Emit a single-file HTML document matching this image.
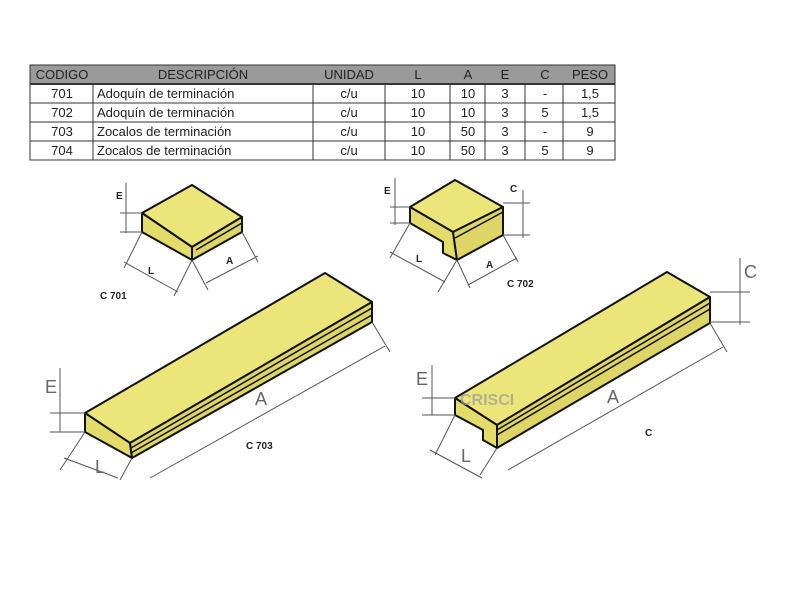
<!DOCTYPE html>
<html><head><meta charset="utf-8"><style>
body{margin:0;background:#fff;}
svg{display:block}
text{font-family:"Liberation Sans",sans-serif;}
</style></head><body>
<svg width="800" height="600" viewBox="0 0 800 600" xmlns="http://www.w3.org/2000/svg">
<rect width="800" height="600" fill="#fff"/>
<!-- table -->
<rect x="30" y="65" width="585" height="19" fill="#9a9a9a"/>
<g stroke="#333" stroke-width="1" fill="none">
<rect x="30" y="65" width="585" height="95"/>
<line x1="30" y1="84" x2="615" y2="84" stroke-width="2"/>
<line x1="30" y1="103" x2="615" y2="103"/>
<line x1="30" y1="122" x2="615" y2="122"/>
<line x1="30" y1="141" x2="615" y2="141"/>
<line x1="93" y1="84" x2="93" y2="160"/>
<line x1="313" y1="84" x2="313" y2="160"/>
<line x1="385" y1="84" x2="385" y2="160"/>
<line x1="450" y1="84" x2="450" y2="160"/>
<line x1="485" y1="84" x2="485" y2="160"/>
<line x1="525" y1="84" x2="525" y2="160"/>
<line x1="563" y1="84" x2="563" y2="160"/>
</g>
<g font-size="13" fill="#222" text-anchor="middle">
<text x="62" y="79">CODIGO</text><text x="203" y="79">DESCRIPCIÓN</text><text x="349" y="79">UNIDAD</text>
<text x="418" y="79">L</text><text x="468" y="79">A</text><text x="505" y="79">E</text><text x="545" y="79">C</text><text x="590" y="79">PESO</text>
<text x="62" y="98">701</text><text x="349" y="98">c/u</text><text x="418" y="98">10</text><text x="468" y="98">10</text><text x="505" y="98">3</text><text x="545" y="98">-</text><text x="590" y="98">1,5</text>
<text x="62" y="117">702</text><text x="349" y="117">c/u</text><text x="418" y="117">10</text><text x="468" y="117">10</text><text x="505" y="117">3</text><text x="545" y="117">5</text><text x="590" y="117">1,5</text>
<text x="62" y="136">703</text><text x="349" y="136">c/u</text><text x="418" y="136">10</text><text x="468" y="136">50</text><text x="505" y="136">3</text><text x="545" y="136">-</text><text x="590" y="136">9</text>
<text x="62" y="155">704</text><text x="349" y="155">c/u</text><text x="418" y="155">10</text><text x="468" y="155">50</text><text x="505" y="155">3</text><text x="545" y="155">5</text><text x="590" y="155">9</text>
</g>
<g font-size="13" fill="#222">
<text x="97" y="98">Adoquín de terminación</text><text x="97" y="117">Adoquín de terminación</text>
<text x="97" y="136">Zocalos de terminación</text><text x="97" y="155">Zocalos de terminación</text>
</g>
<!-- blocks -->
<g stroke="#111" stroke-width="2" stroke-linejoin="round">
<!-- C701 -->
<polygon points="142,213 192,185 242,217 192,247" fill="#ece67a"/>
<polygon points="142,213 192,247 192,260 142,232" fill="#e3dc6a"/>
<polygon points="192,247 242,217 242,232 192,260" fill="#ddd566"/>
<line x1="196" y1="250" x2="242" y2="223" stroke-width="1.5"/>
<!-- C703 -->
<polygon points="85,413 325,273 372,302 130,443" fill="#ece67a"/>
<polygon points="85,413 130,443 132,458 85,432" fill="#e3dc6a"/>
<polygon points="130,443 372,302 372,322 132,458" fill="#ddd566"/>
<line x1="131" y1="448" x2="372" y2="308" stroke-width="1.5"/>
<line x1="131" y1="453" x2="372" y2="315" stroke-width="1.5"/>
<!-- C702 -->
<polygon points="410,207 455,180 503,207 453,232" fill="#ece67a"/>
<polygon points="410,207 453,232 457,260 443,253 443,242 410,223" fill="#e3dc6a"/>
<polygon points="453,232 503,207 503,235 457,260" fill="#ddd566"/>
<line x1="455" y1="238" x2="503" y2="212" stroke-width="1.5"/>
<!-- C704 -->
<polygon points="455,398 667,272 710,297 497,425" fill="#ece67a"/>
<polygon points="455,398 497,425 497,448 483,440 483,430 455,415" fill="#e3dc6a"/>
<polygon points="497,425 710,297 710,323 497,448" fill="#ddd566"/>
<line x1="497" y1="430" x2="710" y2="303" stroke-width="1.5"/>
<line x1="497" y1="435" x2="710" y2="309" stroke-width="1.5"/>
</g>
<!-- dimension lines -->
<g stroke="#555" stroke-width="1" fill="none">
<line x1="126" y1="183" x2="126" y2="233"/><line x1="120" y1="213" x2="142" y2="213"/><line x1="120" y1="232" x2="142" y2="232"/>
<line x1="142" y1="232" x2="124" y2="268"/><line x1="192" y1="260" x2="174" y2="296"/><line x1="124" y1="262" x2="178" y2="292"/>
<line x1="192" y1="260" x2="208" y2="290"/><line x1="242" y1="232" x2="258" y2="262"/><line x1="206" y1="283" x2="258" y2="256"/>
<line x1="60" y1="368" x2="60" y2="432"/><line x1="50" y1="413" x2="85" y2="413"/><line x1="50" y1="432" x2="85" y2="432"/>
<line x1="85" y1="432" x2="60" y2="470"/><line x1="132" y1="458" x2="120" y2="480"/><line x1="64" y1="458" x2="118" y2="478"/>
<line x1="372" y1="322" x2="390" y2="352"/><line x1="150" y1="478" x2="385" y2="346"/>
<line x1="395" y1="178" x2="395" y2="225"/><line x1="390" y1="207" x2="410" y2="207"/><line x1="390" y1="223" x2="410" y2="223"/>
<line x1="410" y1="223" x2="390" y2="258"/><line x1="457" y1="260" x2="438" y2="292"/><line x1="390" y1="252" x2="445" y2="282"/>
<line x1="457" y1="260" x2="470" y2="288"/><line x1="503" y1="235" x2="518" y2="262"/><line x1="468" y1="285" x2="517" y2="258"/>
<line x1="503" y1="203" x2="530" y2="203"/><line x1="503" y1="235" x2="530" y2="235"/><line x1="523" y1="190" x2="523" y2="238"/>
<line x1="432" y1="365" x2="432" y2="415"/><line x1="422" y1="398" x2="455" y2="398"/><line x1="422" y1="415" x2="455" y2="415"/>
<line x1="455" y1="415" x2="435" y2="455"/><line x1="497" y1="448" x2="480" y2="475"/><line x1="430" y1="450" x2="482" y2="478"/>
<line x1="710" y1="323" x2="727" y2="352"/><line x1="508" y1="470" x2="723" y2="347"/>
<line x1="710" y1="292" x2="750" y2="292"/><line x1="710" y1="322" x2="750" y2="322"/><line x1="740" y1="258" x2="740" y2="325"/>
</g>
<g fill="#222" font-weight="bold" font-size="10">
<text x="116" y="199">E</text><text x="148" y="274">L</text><text x="226" y="264">A</text><text x="100" y="299">C 701</text>
<text x="384" y="194">E</text><text x="416" y="262">L</text><text x="486" y="268">A</text><text x="510" y="192">C</text><text x="507" y="287">C 702</text>
<text x="246" y="449">C 703</text><text x="645" y="436">C</text>
</g>
<g fill="#666" font-size="18">
<text x="45" y="393">E</text><text x="95" y="473">L</text><text x="255" y="405">A</text>
<text x="416" y="385">E</text><text x="461" y="462">L</text><text x="607" y="403">A</text><text x="744" y="278">C</text>
</g>
<text x="460" y="405" font-size="16" font-weight="bold" fill="#999" opacity="0.7">CRISCI</text>
</svg>
</body></html>
